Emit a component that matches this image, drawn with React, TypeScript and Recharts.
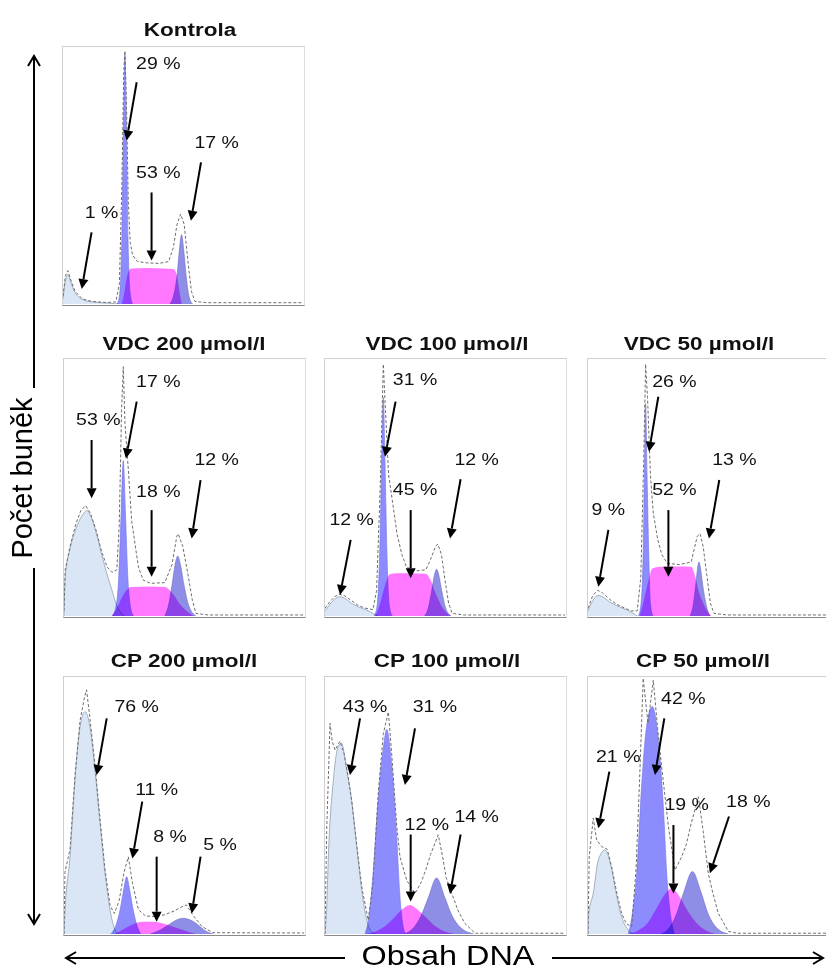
import { ComposedChart, Area, Line, XAxis, YAxis, ReferenceLine, ReferenceDot } from 'recharts';

type Pt = [number, number];
type Note = { text: string; at: Pt; from: Pt; to: Pt };

// x = DNA content channel (0-100 of the panel), y = cell count (0-100 of the panel)
const kontrolaSubG1: Pt[] = [[0, 2], [1, 9], [2, 11.5], [3, 9], [5, 4.5], [8, 1.8], [12, 0.8], [18, 0.4], [23, 0]];
const kontrolaG1: Pt[] = [[22.5, 0], [23.5, 3], [24.5, 25], [25.3, 75], [25.8, 97], [26.3, 75], [27.1, 25], [28, 4], [29, 0]];
const kontrolaS: Pt[] = [[24.5, 0], [25.5, 4], [26.5, 10], [27.5, 13], [28.5, 13.8], [35, 14], [42, 13.8], [46, 13.6], [47.5, 11], [48.5, 5], [49.5, 0]];
const kontrolaG2: Pt[] = [[44.5, 0], [46, 3], [47.5, 11], [48.5, 21], [49.4, 27], [50.3, 21], [51.3, 11], [52.5, 3], [54, 0]];
const kontrolaRaw: Pt[] = [[0, 3], [1, 11], [2, 13], [3, 10], [5, 5], [8, 2], [12, 1], [18, 0.6], [22, 0.8], [23.5, 8], [24.5, 45], [25.3, 90], [25.8, 98.5], [26.4, 80], [27.2, 40], [28, 24], [29, 19], [31, 16.5], [35, 16], [40, 15.8], [44, 16.5], [46, 22], [47.5, 31], [49, 35], [50.5, 31], [52, 17], [53.5, 5], [55, 1], [60, 0.5], [100, 0.5]];

const vdc200SubG1: Pt[] = [[0, 0], [0.5, 15], [2.5, 26], [5, 34], [7.5, 39], [9.5, 41], [11.5, 38], [13.5, 32], [15.7, 24], [18, 16], [20, 10], [22, 4], [24, 1], [25, 0]];
const vdc200G1: Pt[] = [[20, 0], [21.5, 3], [22.8, 15], [23.8, 40], [24.7, 60.5], [25.6, 40], [26.6, 15], [27.8, 3], [29, 0]];
const vdc200S: Pt[] = [[20, 0], [22, 3], [24, 7], [26, 10], [28, 11.3], [35, 11.5], [42, 11.3], [45, 9], [48, 5], [51, 2], [54, 0]];
const vdc200G2: Pt[] = [[42, 0], [43.5, 4], [45, 12], [46.3, 20], [47.4, 23.3], [48.5, 20], [50, 12], [52, 4], [55, 0]];
const vdc200Raw: Pt[] = [[0, 2], [0.5, 18], [2.5, 27], [5, 36], [7, 41], [9, 43], [11, 40], [13.5, 33], [15.7, 25], [18, 19], [20, 17], [22, 18], [23, 35], [24, 80], [24.7, 97], [25.4, 75], [26.8, 57], [28.2, 37], [31, 19], [33, 14], [36, 12.7], [42, 13], [45, 20], [47, 31], [47.6, 32], [49.5, 27], [51.5, 17], [53.5, 6], [55, 1], [60, 0.4], [100, 0.4]];

const vdc100SubG1: Pt[] = [[0, 2], [2, 4.5], [4, 6.5], [6, 7.5], [8, 7], [11, 5], [14, 3.5], [17, 2.5], [20, 1], [22, 0]];
const vdc100G1: Pt[] = [[20.5, 0], [21.7, 4], [22.8, 25], [23.6, 60], [24.3, 85], [25, 60], [25.8, 25], [26.8, 4], [28, 0]];
const vdc100S: Pt[] = [[21, 0], [23, 5], [25, 12], [27, 16.2], [30, 16.6], [36, 16.6], [42, 16.4], [44, 14], [46, 9], [48.5, 4], [51, 1], [52.5, 0]];
const vdc100G2: Pt[] = [[41.5, 0], [43, 3], [44.5, 10], [45.6, 16], [46.5, 18.2], [47.4, 16], [48.6, 10], [50.3, 3], [52.5, 0]];
const vdc100Raw: Pt[] = [[0, 3], [2, 5.5], [4, 7.5], [6, 8.5], [8, 8], [11, 6], [14, 4], [17, 3], [20, 2.5], [21.5, 10], [23, 50], [24.3, 98], [25.2, 80], [26.5, 55], [28.5, 42], [30, 32], [32, 24], [34, 19], [38, 17.5], [42, 18], [44, 22], [46, 27], [47, 28], [48.5, 24], [50, 14], [51.5, 5], [53, 1], [58, 0.4], [100, 0.4]];

const vdc50SubG1: Pt[] = [[0, 2], [2, 6], [4, 8], [6, 7.5], [9, 5.5], [12, 4], [15, 2.8], [18, 1.5], [20.5, 0]];
const vdc50G1: Pt[] = [[21, 0], [22, 4], [23, 25], [23.5, 55], [24, 82.7], [24.6, 55], [25.3, 25], [26, 5], [27, 0]];
const vdc50S: Pt[] = [[21.5, 0], [23, 5], [25, 13], [26.8, 18.5], [30, 19.2], [38, 19.3], [43, 19.2], [44.5, 16], [46, 10], [48, 5], [50, 1.5], [51.5, 0]];
const vdc50G2: Pt[] = [[42.5, 0], [43.8, 4], [45, 13], [45.7, 19], [46.25, 21], [46.8, 19], [47.8, 12], [49.3, 4], [50.8, 0]];
const vdc50Raw: Pt[] = [[0, 3], [2, 8], [4, 10], [6, 9], [9, 6.5], [12, 4.5], [15, 3.2], [18, 2], [20.5, 2], [22, 15], [23.2, 60], [24, 98], [24.8, 85], [26, 55], [27.2, 40], [29, 30], [30.7, 24], [33, 20.5], [38, 20], [43, 21], [44.5, 27], [45.5, 31], [46.7, 32], [48, 27], [49.5, 16], [51, 5], [52.5, 1], [58, 0.4], [100, 0.4]];

const cp200SubG1: Pt[] = [[0, 0], [0.5, 10], [2.5, 30], [4.6, 60], [6.7, 80.7], [8.75, 86.5], [10.8, 80.7], [12.9, 63.8], [15, 43], [17.1, 23.6], [19.2, 9.3], [21.3, 1.6], [23, 0]];
const cp200G1: Pt[] = [[19.5, 0], [21.5, 3], [23.5, 10], [25, 18], [26.1, 22.3], [27.2, 18], [28.7, 10], [30.5, 3], [32, 0]];
const cp200S: Pt[] = [[21, 0], [24, 1.5], [27, 3], [30, 4.3], [33, 4.8], [37, 4.8], [41, 4.2], [44, 3.3], [48, 2], [52, 0.8], [55, 0]];
const cp200G2: Pt[] = [[36, 0], [40, 1.5], [44, 3.8], [47, 5.5], [49.7, 6.1], [52.5, 5.5], [55.5, 3.8], [58.5, 1.5], [62, 0]];
const cp200Raw: Pt[] = [[0, 0], [0.4, 24], [2.5, 33], [4.6, 62], [6.7, 83], [8.5, 92], [9.4, 95], [10.8, 84], [12.9, 66], [15, 45], [17.1, 25], [19.2, 11], [21, 8], [23, 13], [25, 24], [26.8, 30], [28.5, 20], [31, 9.5], [34, 7], [38, 6.8], [42, 7.5], [46, 9], [49, 10.5], [51, 11.3], [54, 7], [57.4, 3], [62, 0.5], [100, 0.4]];

const cp100SubG1: Pt[] = [[0, 0], [0.7, 10], [1.4, 30], [3.5, 60], [5.5, 73], [6.9, 74.2], [9, 64], [11.1, 52], [13.2, 34], [15.3, 17], [17.4, 5.4], [19.4, 0.9], [21, 0]];
const cp100G1: Pt[] = [[16.7, 0], [18.5, 8], [20.1, 24.4], [22.2, 53], [24.3, 72.4], [25.7, 79.6], [27.8, 65.9], [29.9, 37.4], [31.25, 14.4], [32.6, 2.7], [33.5, 0]];
const cp100S: Pt[] = [[17, 0], [21, 1], [25, 3], [29, 6.5], [32, 9.5], [35.4, 11.3], [38.5, 9.5], [42, 6.5], [46, 3], [50, 1], [54, 0]];
const cp100G2: Pt[] = [[33, 0], [37, 2.5], [40, 7], [43, 14], [46.5, 21.8], [50, 14], [53, 7], [56.5, 2.5], [62, 0]];
const cp100Raw: Pt[] = [[0, 0], [0.7, 40], [2.1, 82], [3, 75], [4.2, 71.6], [6.25, 75], [8, 70], [9.5, 62], [11.1, 52], [13.2, 35], [15.3, 18.4], [18, 5.4], [20, 20], [22.2, 55], [24.3, 78], [26.4, 86.4], [27.8, 70], [29.9, 42], [31.25, 30], [34, 21], [37.5, 15.8], [40, 20], [42, 25], [44, 31], [47.2, 38.6], [49, 30], [50.5, 22], [52.8, 15.8], [55.5, 9], [58.3, 4.1], [62.5, 0.3], [100, 0.3]];

const cp50SubG1: Pt[] = [[0, 0], [0.3, 8], [2.2, 15.8], [4.3, 28.8], [7.1, 32.7], [9.9, 24.9], [12, 14.5], [14, 6.7], [16.8, 1.6], [18.9, 0]];
const cp50G1: Pt[] = [[16.8, 0], [18.5, 8], [20.3, 23.6], [22.4, 58.6], [24.4, 80.7], [26.8, 88.5], [29.3, 75.5], [31.4, 49.5], [32.8, 23.6], [34.9, 4.1], [36, 0]];
const cp50S: Pt[] = [[17, 0], [21, 1.5], [25, 4.5], [28, 9], [31, 14], [34.9, 17.8], [38.5, 14], [41.5, 9], [45, 4.5], [49, 1.5], [53, 0]];
const cp50G2: Pt[] = [[30.5, 0], [34, 2.5], [37, 8], [40, 16.5], [43.5, 24.3], [47, 16.5], [50, 8], [53.5, 2.5], [58.5, 0]];
const cp50Raw: Pt[] = [[0, 0], [0.5, 30], [2.2, 45], [3.6, 36.6], [5.7, 34], [8, 33], [9.9, 26], [12, 16], [14, 8], [16, 4], [18.2, 2.9], [20, 25], [21.5, 60], [23, 99.5], [25, 82], [27.2, 98.8], [29, 80], [30.7, 65], [33.5, 41.8], [36.25, 24.9], [39, 30], [41, 35], [43, 43], [46, 53.4], [48, 40], [50.1, 23.6], [52, 16], [54.3, 8], [58.5, 1], [62, 0.3], [100, 0.3]];

// percentage labels with their arrows (label centre, arrow start, arrow tip)
const kontrolaNotes: Note[] = [
  { text: '29 %', at: [39.7, 93.4], from: [30.7, 86.3], to: [26.5, 63.6] },
  { text: '53 %', at: [39.7, 51.2], from: [36.9, 43.4], to: [36.9, 16.9] },
  { text: '17 %', at: [64, 62.9], from: [57.5, 55.1], to: [53.3, 32.4] },
  { text: '1 %', at: [16.1, 35.7], from: [11.9, 27.9], to: [7.8, 5.8] },
];
const vdc200Notes: Note[] = [
  { text: '17 %', at: [39.3, 91.2], from: [30.3, 83.4], to: [25.8, 61.3] },
  { text: '53 %', at: [14.3, 76.3], from: [11.5, 68.5], to: [11.5, 45.8] },
  { text: '18 %', at: [39.3, 48.4], from: [36.5, 41.2], to: [36.5, 15.3] },
  { text: '12 %', at: [63.6, 60.7], from: [56.9, 52.9], to: [53.2, 30.2] },
];
const vdc100Notes: Note[] = [
  { text: '31 %', at: [37.5, 91.8], from: [29.4, 83.4], to: [25, 62] },
  { text: '45 %', at: [37.5, 49], from: [35.7, 41.2], to: [35.7, 14.7] },
  { text: '12 %', at: [63.2, 60.7], from: [56.5, 53.2], to: [52.1, 30.2] },
  { text: '12 %', at: [11.1, 37.4], from: [10.7, 29.6], to: [6.25, 8.2] },
];
const vdc50Notes: Note[] = [
  { text: '26 %', at: [36, 91.2], from: [29.3, 85.3], to: [25.4, 63.9] },
  { text: '52 %', at: [36, 49], from: [33.5, 41.2], to: [33.5, 15.3] },
  { text: '13 %', at: [61, 60.7], from: [54.7, 52.9], to: [50.4, 30.2] },
  { text: '9 %', at: [8.5, 41.2], from: [8.5, 33.5], to: [4.3, 11.4] },
];
const cp200Notes: Note[] = [
  { text: '76 %', at: [30.3, 88.5], from: [17.8, 83.9], to: [13.6, 61.9] },
  { text: '11 %', at: [38.6, 56], from: [32.6, 51.5], to: [28.5, 29.4] },
  { text: '8 %', at: [44.2, 37.9], from: [38.6, 30.1], to: [38.6, 4.8] },
  { text: '5 %', at: [65, 34.6], from: [56.9, 30.1], to: [53.2, 8] },
];
const cp100Notes: Note[] = [
  { text: '43 %', at: [16.7, 88.5], from: [14.6, 83.9], to: [10.4, 61.9] },
  { text: '31 %', at: [45.8, 88.5], from: [37.5, 80], to: [33.3, 58] },
  { text: '12 %', at: [42.4, 42.4], from: [35.7, 38.7], to: [35.7, 12.6] },
  { text: '14 %', at: [63.2, 45.7], from: [56.5, 38.7], to: [52.1, 15.6] },
];
const cp50Notes: Note[] = [
  { text: '42 %', at: [39.7, 91.7], from: [31.8, 83.9], to: [27.9, 61.9] },
  { text: '21 %', at: [12.6, 69], from: [8.9, 63.2], to: [4.3, 41.1] },
  { text: '19 %', at: [41.1, 50.2], from: [35.6, 42.4], to: [35.6, 15.8] },
  { text: '18 %', at: [66.8, 51.5], from: [58.75, 45.7], to: [50.8, 23.6] },
];

const W = 240;
const H = 257;
const FONT = "'Liberation Sans', Arial, Helvetica, sans-serif";

const rows = (pts: Pt[]) => pts.map(([x, y]) => ({ x, y }));

const panels = [
  { title: 'Kontrola', left: 63, top: 47, titleX: 190, titleY: 30, subG1: kontrolaSubG1, g1: kontrolaG1, s: kontrolaS, g2: kontrolaG2, raw: kontrolaRaw, notes: kontrolaNotes },
  { title: 'VDC 200 µmol/l', left: 64, top: 359, titleX: 184, titleY: 344, subG1: vdc200SubG1, g1: vdc200G1, s: vdc200S, g2: vdc200G2, raw: vdc200Raw, notes: vdc200Notes },
  { title: 'VDC 100 µmol/l', left: 325, top: 359, titleX: 447, titleY: 344, subG1: vdc100SubG1, g1: vdc100G1, s: vdc100S, g2: vdc100G2, raw: vdc100Raw, notes: vdc100Notes },
  { title: 'VDC 50 µmol/l', left: 588, top: 359, titleX: 699, titleY: 344, subG1: vdc50SubG1, g1: vdc50G1, s: vdc50S, g2: vdc50G2, raw: vdc50Raw, notes: vdc50Notes },
  { title: 'CP 200 µmol/l', left: 64, top: 677, titleX: 184, titleY: 661, subG1: cp200SubG1, g1: cp200G1, s: cp200S, g2: cp200G2, raw: cp200Raw, notes: cp200Notes },
  { title: 'CP 100 µmol/l', left: 325, top: 677, titleX: 447, titleY: 661, subG1: cp100SubG1, g1: cp100G1, s: cp100S, g2: cp100G2, raw: cp100Raw, notes: cp100Notes },
  { title: 'CP 50 µmol/l', left: 588, top: 677, titleX: 703, titleY: 661, subG1: cp50SubG1, g1: cp50G1, s: cp50S, g2: cp50G2, raw: cp50Raw, notes: cp50Notes },
];

// black arrow with a filled head, drawn between the two segment points
const arrowShape = (p: any) => {
  const { x1, y1, x2, y2 } = p;
  const ang = Math.atan2(y2 - y1, x2 - x1);
  const len = 10;
  const half = 5;
  const bx = x2 - len * Math.cos(ang);
  const by = y2 - len * Math.sin(ang);
  const px = -Math.sin(ang) * half;
  const py = Math.cos(ang) * half;
  return (
    <g>
      <line x1={x1} y1={y1} x2={bx} y2={by} stroke="#000" strokeWidth={2} />
      <polygon points={`${x2},${y2} ${bx + px},${by + py} ${bx - px},${by - py}`} fill="#000" />
    </g>
  );
};

function Panel({ p }: { p: (typeof panels)[number] }) {
  return (
    <>
      <div
        style={{
          position: 'absolute', left: p.titleX - 150, top: p.titleY - 9, width: 300, textAlign: 'center',
          fontFamily: FONT, fontWeight: 'bold', fontSize: 18, lineHeight: '18px', color: '#111', transform: 'scaleX(1.25)',
        }}
      >
        {p.title}
      </div>
      <div className="histo" style={{ position: 'absolute', left: p.left, top: p.top, width: W, height: H }}>
        <ComposedChart width={W} height={H} margin={{ top: 0, right: 0, bottom: 0, left: 0 }}>
          <XAxis type="number" dataKey="x" domain={[0, 100]} hide allowDataOverflow />
          <YAxis type="number" domain={[0, 100]} hide allowDataOverflow />
          <Area data={rows(p.subG1)} dataKey="y" type="monotone" fill="#dae6f5" fillOpacity={1} stroke="#8fa0b4" strokeWidth={0.8} isAnimationActive={false} />
          <Area data={rows(p.s)} dataKey="y" type="monotone" fill="#ff78ff" fillOpacity={1} stroke="none" isAnimationActive={false} />
          <Area data={rows(p.g1)} dataKey="y" type="monotone" fill="#8c8cff" fillOpacity={1} stroke="#7070e0" strokeWidth={0.6} isAnimationActive={false} />
          <Area data={rows(p.g2)} dataKey="y" type="monotone" fill="#8e8ee6" fillOpacity={1} stroke="#6c6cc8" strokeWidth={0.6} isAnimationActive={false} />
          <Line data={rows(p.raw)} dataKey="y" type="linear" stroke="#6e6e6e" strokeWidth={1} strokeDasharray="3 2" dot={false} isAnimationActive={false} />
          {p.notes.map((n, i) => (
            <ReferenceLine
              key={'a' + i}
              segment={[{ x: n.from[0], y: n.from[1] }, { x: n.to[0], y: n.to[1] }]}
              ifOverflow="visible"
              shape={arrowShape}
            />
          ))}
          {p.notes.map((n, i) => (
            <ReferenceDot
              key={'t' + i}
              x={n.at[0]}
              y={n.at[1]}
              r={0}
              ifOverflow="visible"
              shape={(d: any) => (
                <text
                  transform={`translate(${d.cx},${d.cy}) scale(1.22,1)`}
                  textAnchor="middle"
                  dominantBaseline="central"
                  fontFamily={FONT}
                  fontSize={16}
                  fill="#111"
                >
                  {n.text}
                </text>
              )}
            />
          ))}
        </ComposedChart>
        <div
          style={{
            position: 'absolute', left: -1, top: -1, width: W + 1, height: H + 1, pointerEvents: 'none',
            borderTop: '1px solid #cfcfcf', borderLeft: '1px solid #cfcfcf', borderRight: '1px solid #dedede',
            borderBottom: '1px solid #8a8a8a',
          }}
        />
      </div>
    </>
  );
}

export default function App() {
  return (
    <div style={{ position: 'absolute', left: 0, top: 0, width: 826, height: 971, background: '#fff', overflow: 'hidden' }}>
      <style>{'.histo .recharts-area { mix-blend-mode: multiply; }'}</style>
      <svg width={826} height={971} style={{ position: 'absolute', left: 0, top: 0 }}>
        <g stroke="#000" strokeWidth={2} fill="none">
          <line x1={34} y1={56} x2={34} y2={388} />
          <line x1={34} y1={568} x2={34} y2={924} />
          <polyline points="28,66 34,56 40,66" />
          <polyline points="28,914 34,924 40,914" />
          <line x1={66} y1={958} x2={345} y2={958} />
          <line x1={552} y1={958} x2={823} y2={958} />
          <polyline points="76,952 66,958 76,964" />
          <polyline points="813,952 823,958 813,964" />
        </g>
        <text
          transform="translate(22,478) rotate(-90)"
          textAnchor="middle"
          dominantBaseline="central"
          fontFamily={FONT}
          fontSize={29}
          fill="#000"
        >
          Počet buněk
        </text>
        <text
          transform="translate(448,955) scale(1.2,1)"
          textAnchor="middle"
          dominantBaseline="central"
          fontFamily={FONT}
          fontSize={27}
          fill="#000"
        >
          Obsah DNA
        </text>
      </svg>
      {panels.map((p) => (
        <Panel key={p.title} p={p} />
      ))}
    </div>
  );
}
